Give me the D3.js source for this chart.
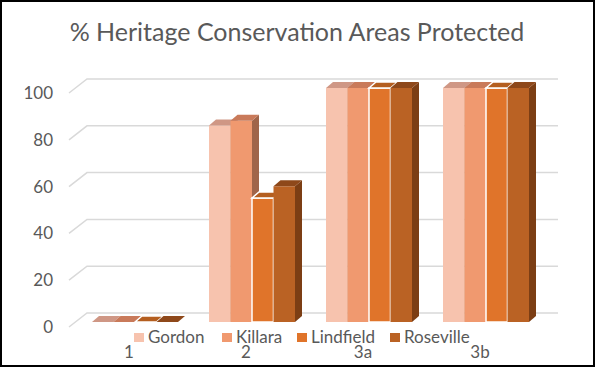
<!DOCTYPE html>
<html>
<head>
<meta charset="utf-8">
<script src="https://cdn.jsdelivr.net/npm/d3@7"></script>
<style>
  body { margin: 0; background: #fff; }
  svg { display: block; font-family: Lato, "Open Sans", sans-serif; }
</style>
</head>
<body>
<svg width="595" height="367"></svg>
<script>
// Data
const categories = ["1", "2", "3a", "3b"];
const seriesNames = ["Gordon", "Killara", "Lindfield", "Roseville"];
const gordon = [0, 84, 100, 100];
const killara = [0, 86, 100, 100];
const lindfield = [0, 53, 100, 100];
const roseville = [0, 58, 100, 100];
const yTicks = [0, 20, 40, 60, 80, 100];

const values = [gordon, killara, lindfield, roseville];

// Colours: front, top, side
const colors = [
  {front: "#F7C3AE", top: "#CF9785", side: "#B88673"},
  {front: "#F0996F", top: "#C97A5A", side: "#A0654A"},
  {front: "#E0742A", top: "#B45E1F", side: "#9A4E19"},
  {front: "#BA6224", top: "#8E481A", side: "#7C3E14"}
];

const svg = d3.select("svg");

// Depth offsets for the 3D look
const wallDx = 18, wallDy = -14;   // front axis -> back wall
const barDx = 7, barDy = -6;       // bar depth
const axisX = 69;

// Scales
const yBar = d3.scaleLinear().domain([0, 100]).range([322, 88]);
const yFront = v => yBar(v) + 5;
const yBack = v => yFront(v) + wallDy;

const x0 = d3.scaleBand()
  .domain(categories)
  .range([76.5, 544.5])
  .paddingInner(0.265)
  .paddingOuter(0.1325);

const x1 = d3.scaleBand()
  .domain(seriesNames)
  .range([0, x0.bandwidth()]);

// Border
svg.append("rect")
  .attr("x", 1).attr("y", 1)
  .attr("width", 593).attr("height", 365)
  .attr("fill", "none")
  .attr("stroke", "#000")
  .attr("stroke-width", 2);

// Title
svg.append("text")
  .attr("x", 297)
  .attr("y", 41)
  .attr("text-anchor", "middle")
  .attr("font-size", 25)
  .attr("fill", "#595959")
  .text("% Heritage Conservation Areas Protected");

// Gridlines (diagonal on side, then back wall)
const grid = svg.append("g").attr("class", "grid");
grid.selectAll("path")
  .data(yTicks)
  .enter()
  .append("path")
  .attr("d", d => `M${axisX},${yFront(d)}L${axisX + wallDx},${yBack(d)}H558`)
  .attr("fill", "none")
  .attr("stroke", "#D9D9D9")
  .attr("stroke-width", 1.5);

// Y labels
svg.append("g")
  .selectAll("text")
  .data(yTicks)
  .enter()
  .append("text")
  .attr("x", 53)
  .attr("y", d => yFront(d) + 6)
  .attr("text-anchor", "end")
  .attr("font-size", 17)
  .attr("fill", "#595959")
  .text(d => d);

// Bars
const bars = [];
categories.forEach((c, ci) => {
  seriesNames.forEach((s, si) => {
    bars.push({cat: c, series: s, si: si, value: values[si][ci]});
  });
});

const barG = svg.append("g").attr("class", "bars");
bars.forEach(d => {
  const x = x0(d.cat) + x1(d.series);
  const w = x1.bandwidth();
  const yt = yBar(d.value);
  const yb = yBar(0);
  const col = colors[d.si];
  const g = barG.append("g");
  const outline = d.si === 2 ? "#fff" : "none";

  // side face
  g.append("path")
    .attr("d", `M${x + w},${yt}L${x + w + barDx},${yt + barDy}L${x + w + barDx},${yb + barDy}L${x + w},${yb}Z`)
    .attr("fill", col.side);
  // front face
  g.append("rect")
    .attr("x", x).attr("y", yt)
    .attr("width", w).attr("height", Math.max(0, yb - yt))
    .attr("fill", col.front)
    .attr("stroke", outline)
    .attr("stroke-width", 1.5);
  // top face
  g.append("path")
    .attr("d", `M${x},${yt}L${x + barDx},${yt + barDy}L${x + w + barDx},${yt + barDy}L${x + w},${yt}Z`)
    .attr("fill", col.top)
    .attr("stroke", outline)
    .attr("stroke-width", 1.5);
});

// Category labels
svg.append("g")
  .selectAll("text")
  .data(categories)
  .enter()
  .append("text")
  .attr("x", d => x0(d) + x0.bandwidth() / 2 - 6)
  .attr("y", 358)
  .attr("text-anchor", "middle")
  .attr("font-size", 17)
  .attr("fill", "#595959")
  .text(d => d);

// Legend
const legendX = [134, 222, 297, 390];
const legend = svg.append("g").attr("class", "legend");
seriesNames.forEach((s, i) => {
  legend.append("rect")
    .attr("x", legendX[i]).attr("y", 333)
    .attr("width", 10).attr("height", 9)
    .attr("fill", colors[i].front);
  legend.append("text")
    .attr("x", legendX[i] + 14)
    .attr("y", 343)
    .attr("font-size", 17)
    .attr("fill", "#595959")
    .text(s);
});
</script>
</body>
</html>
